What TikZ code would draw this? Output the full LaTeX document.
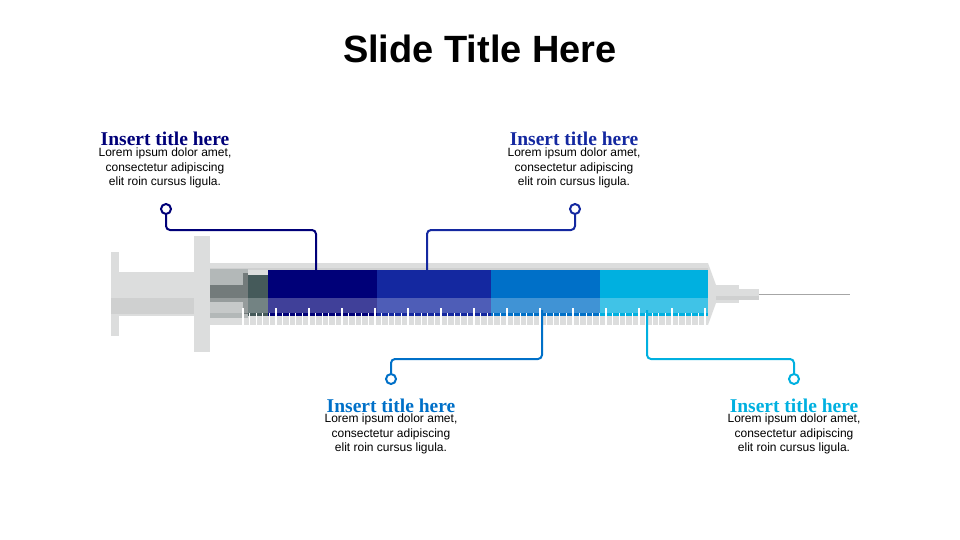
\documentclass[tikz,border=0pt]{standalone}
\usepackage{fontspec}
\setmainfont{Liberation Sans}
\newfontfamily\serifb{Liberation Serif}
\newfontfamily\titlef{Liberation Sans}
\definecolor{cA}{HTML}{000078}
\definecolor{cB}{HTML}{1428A0}
\definecolor{cC}{HTML}{0070C8}
\definecolor{cD}{HTML}{00B0E0}
\definecolor{lg}{HTML}{DCDDDD}
\definecolor{mg}{HTML}{CFD0D0}
\definecolor{sg1}{HTML}{B3B8B8}
\definecolor{sg2}{HTML}{737B7B}
\definecolor{sg3}{HTML}{455A5A}
\begin{document}
\begin{tikzpicture}[x=1pt,y=-1pt,
  ttl/.style={font=\serifb\bfseries\fontsize{19.5}{22}\selectfont,anchor=base},
  body/.style={font=\fontsize{12}{14.5}\selectfont,align=center,anchor=north,inner sep=0pt},
  lead/.style={line width=2pt,rounded corners=4pt},
  dot/.style={circle,draw,line width=2pt,fill=white,minimum size=10pt,inner sep=0pt}]
\useasboundingbox (0,0) rectangle (960,540);
\node[font=\titlef\bfseries\fontsize{38}{42}\selectfont,anchor=base] (title) at (480,63) {Slide Title Here};
% plunger
\fill[lg] (111,252) rectangle (119,336);
\fill[lg] (119,272) rectangle (195,316);
\fill[mg] (111,298) rectangle (195,314);
\fill[lg] (194,236) rectangle (210,352);
% barrel
\fill[lg] (210,263) rectangle (708,325);
\fill[lg] (708,263) -- (716,285) -- (716,303) -- (708,325) -- cycle;
\fill[lg] (716,285) rectangle (739,303);
\fill[lg] (739,289) rectangle (759,300);
\fill[mg] (716,296) rectangle (759,300);
\draw[gray!70,line width=0.8pt] (759,294.5) -- (850,294.5);
\fill[mg] (210,268) rectangle (708,270);
% stopper
\fill[sg1] (210,269) rectangle (248,318);
\fill[sg2] (210,285) rectangle (248,302);
\fill[sg2] (243,273) rectangle (248,314);
\fill[sg3] (248,275) rectangle (268,316);
% liquid
\fill[cA] (268,270) rectangle (377,316);
\fill[cB] (377,270) rectangle (491,316);
\fill[cC] (491,270) rectangle (600,316);
\fill[cD] (600,270) rectangle (708,316);
\fill[white,opacity=0.25] (210,298) rectangle (708,313);
% ticks
\foreach \i in {0,...,70}{
  \pgfmathsetmacro\xx{243+6.6*\i}
  \pgfmathsetmacro\yy{mod(\i,5)==0 ? 308 : 313}
  \draw[white,line width=1.3pt] (\xx,\yy) -- (\xx,325);
}
% anchors
\coordinate (a1) at (316,270); \coordinate (a2) at (427,270);
\coordinate (a3) at (542,310); \coordinate (a4) at (647,310);
\node[dot,draw=cA] (d1) at (166,209) {};
\node[dot,draw=cB] (d2) at (575,209) {};
\node[dot,draw=cC] (d3) at (391,379) {};
\node[dot,draw=cD] (d4) at (794,379) {};
\draw[lead,cA] (d1.south) |- (316,230) -- (a1);
\draw[lead,cB] (d2.south) |- (427,230) -- (a2);
\draw[lead,cC] (a3) |- (391,359) -- (d3.north);
\draw[lead,cD] (a4) |- (794,359) -- (d4.north);
% texts
\node[ttl,text=cA] (t1) at (165,146) {Insert title here};
\node[body] (b1) at (165,148) {Lorem ipsum dolor amet,\\consectetur adipiscing\\elit roin cursus ligula.};
\node[ttl,text=cB] (t2) at (574,146) {Insert title here};
\node[body] (b2) at (574,148) {Lorem ipsum dolor amet,\\consectetur adipiscing\\elit roin cursus ligula.};
\node[ttl,text=cC] (t3) at (391,412) {Insert title here};
\node[body] (b3) at (391,414) {Lorem ipsum dolor amet,\\consectetur adipiscing\\elit roin cursus ligula.};
\node[ttl,text=cD] (t4) at (794,412) {Insert title here};
\node[body] (b4) at (794,414) {Lorem ipsum dolor amet,\\consectetur adipiscing\\elit roin cursus ligula.};
\end{tikzpicture}
\end{document}
